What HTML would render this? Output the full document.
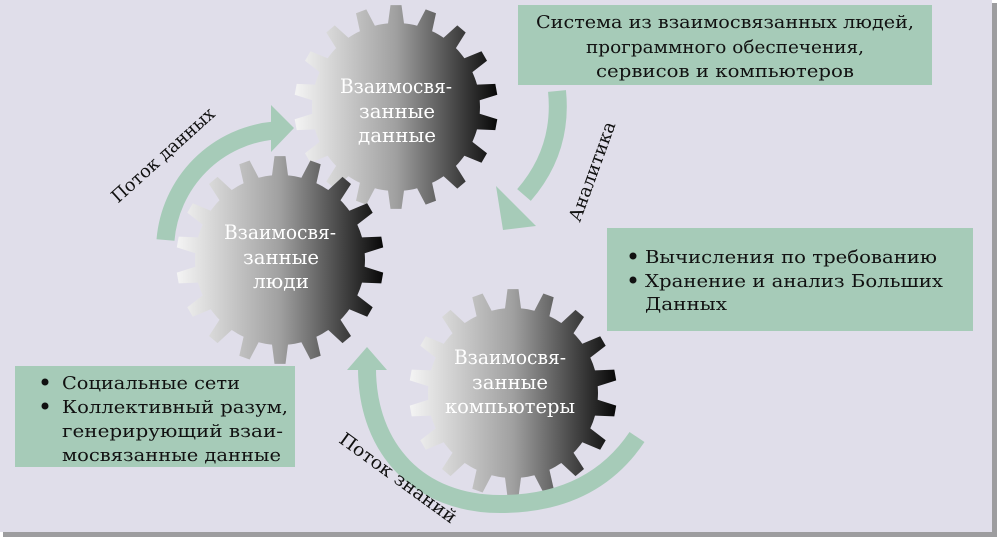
<!DOCTYPE html>
<html><head><meta charset="utf-8"><style>
html,body{margin:0;padding:0;background:#fff;overflow:hidden;}
svg{display:block;}
text{font-family:"DejaVu Serif","Liberation Serif",serif;}
</style></head><body>
<svg id="s" width="1000" height="540" viewBox="0 0 1000 540" xmlns="http://www.w3.org/2000/svg">
<defs>
<linearGradient id="g" x1="0" y1="0" x2="1" y2="0">
<stop offset="0" stop-color="#f4f4f4"/><stop offset="0.5" stop-color="#a0a0a0"/><stop offset="1" stop-color="#080808"/>
</linearGradient>
</defs>
<rect x="3" y="3" width="994" height="534" fill="#9d9d9f"/>
<rect x="0" y="0" width="992" height="532" fill="#e0deea"/>

<g id="gears"></g>

<g fill="none" stroke="#a6cbb8" stroke-width="18">
<path d="M165.5,240 A120,120 0 0 1 274.5,130.5"/>
<path d="M557,91 Q563,150 524,195"/>
<path d="M637,437 C600,492 545,504 500,504 C420,504 367,450 367,368"/>
</g>
<g fill="#a6cbb8">
<polygon points="271,105 271,152 294,128"/>
<polygon points="496,186 536,226 503,230"/>
<polygon points="347,370 387,370 367,347"/>
</g>

<rect x="518" y="5" width="414" height="80" fill="#a6cbb8"/>
<rect x="607" y="228" width="366" height="103" fill="#a6cbb8"/>
<rect x="15" y="366" width="280" height="101" fill="#a6cbb8"/>

<g font-size="18" fill="#111">
<text x="725" y="28" text-anchor="middle" textLength="378" lengthAdjust="spacingAndGlyphs">Система из взаимосвязанных людей,</text>
<text x="725" y="53" text-anchor="middle" textLength="278" lengthAdjust="spacingAndGlyphs">программного обеспечения,</text>
<text x="725" y="77" text-anchor="middle" textLength="258" lengthAdjust="spacingAndGlyphs">сервисов и компьютеров</text>

<circle cx="633" cy="256" r="3.5"/><circle cx="633" cy="280" r="3.5"/>
<text x="645" y="263" textLength="292" lengthAdjust="spacingAndGlyphs">Вычисления по требованию</text>
<text x="645" y="287" textLength="298" lengthAdjust="spacingAndGlyphs">Хранение и анализ Больших</text>
<text x="645" y="310" textLength="82" lengthAdjust="spacingAndGlyphs">Данных</text>

<circle cx="45" cy="382" r="3.5"/><circle cx="45" cy="406" r="3.5"/>
<text x="62" y="389" textLength="178" lengthAdjust="spacingAndGlyphs">Социальные сети</text>
<text x="62" y="413" textLength="226" lengthAdjust="spacingAndGlyphs">Коллективный разум,</text>
<text x="62" y="437" textLength="221" lengthAdjust="spacingAndGlyphs">генерирующий взаи-</text>
<text x="62" y="461" textLength="219" lengthAdjust="spacingAndGlyphs">мосвязанные данные</text>

<text transform="translate(163,155) rotate(-42)" textLength="132" lengthAdjust="spacingAndGlyphs" x="-66" y="6">Поток данных</text>
<text transform="translate(592,172) rotate(-70)" textLength="105" lengthAdjust="spacingAndGlyphs" x="-52" y="6">Аналитика</text>
<text transform="translate(398,478) rotate(36)" textLength="140" lengthAdjust="spacingAndGlyphs" x="-70" y="6">Поток знаний</text>
</g>

<g font-size="20" fill="#fff" text-anchor="middle">
<text x="396" y="93" textLength="112" lengthAdjust="spacingAndGlyphs">Взаимосвя-</text>
<text x="397" y="118" textLength="76" lengthAdjust="spacingAndGlyphs">занные</text>
<text x="397" y="142" textLength="78" lengthAdjust="spacingAndGlyphs">данные</text>
<text x="280" y="239" textLength="112" lengthAdjust="spacingAndGlyphs">Взаимосвя-</text>
<text x="281" y="264" textLength="76" lengthAdjust="spacingAndGlyphs">занные</text>
<text x="281" y="288" textLength="56" lengthAdjust="spacingAndGlyphs">люди</text>
<text x="510" y="364" textLength="112" lengthAdjust="spacingAndGlyphs">Взаимосвя-</text>
<text x="510" y="389" textLength="76" lengthAdjust="spacingAndGlyphs">занные</text>
<text x="510" y="413" textLength="130" lengthAdjust="spacingAndGlyphs">компьютеры</text>
</g>
</svg>
<script>
(function(){
var NS="http://www.w3.org/2000/svg";
var g=document.getElementById("gears");
function gear(cx,cy,rb,rt,n,off){
  var d="";
  var pts=[];
  for(var i=0;i<n;i++){
    var a=off+i*2*Math.PI/n;
    var hw=8/rb, hw2=5.5/rt;
    pts.push([a-hw,rb],[a-hw2,rt],[a+hw2,rt],[a+hw,rb]);
    var nxt=off+(i+1)*2*Math.PI/n;
    var steps=4;
    for(var k=1;k<steps;k++){var b=(a+hw)+(nxt-hw-(a+hw))*k/steps;pts.push([b,rb]);}
  }
  pts.forEach(function(p,j){
    var x=cx+p[1]*Math.cos(p[0]), y=cy+p[1]*Math.sin(p[0]);
    d+=(j?"L":"M")+x.toFixed(1)+","+y.toFixed(1);
  });
  d+="Z";
  var path=document.createElementNS(NS,"path");
  path.setAttribute("d",d);
  path.setAttribute("fill","url(#g)");
  path.setAttribute("stroke-linejoin","round");
  g.appendChild(path);
}
gear(396,107,84,102,18,-Math.PI/2);
gear(280,260,85,104,18,-Math.PI/2);
gear(513,393,85,104,18,-Math.PI/2);
})();
</script>
</body></html>
